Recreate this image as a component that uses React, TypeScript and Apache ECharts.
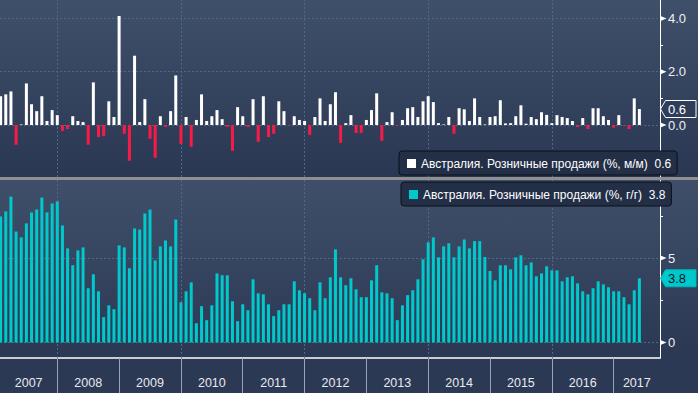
import React, { useEffect, useRef } from 'react';
import * as echarts from 'echarts';

// ---- data ----
const START_YEAR = 2007;
const yearLabels = ['2007', '2008', '2009', '2010', '2011', '2012', '2013', '2014', '2015', '2016', '2017'];

// Monthly % change (m/m), Jan 2007 .. May 2017
const momValues = [
  1.08, 1.15, 1.26, -0.74, 0.02, 1.56, 0.78, 0.52, 1.08, 0.15, 0.56, 0.37,
  -0.22, -0.15, 0.33, 0.15, 0.11, -0.74, 1.6, -0.45, -0.41, 0.89, 0.3, 4.09,
  -0.33, -1.34, 2.6, 0.11, 0.97, -0.52, -1.23, 0.33, -0.07, 0.52, 1.86, -0.71,
  0.3, -0.82, 0.19, 1.15, 0.15, 0.33, 0.56, 0.22, -0.07, -0.97, 0.67, 0.33,
  -0.07, 0.97, -0.63, 1.08, -0.45, -0.33, 0.89, 0.52, -0.02, 0.33, 0.19, 0.15,
  -0.37, 0.3, 1.0, 0.15, 0.78, 1.23, -0.67, 0.07, 0.37, -0.3, -0.3, 0.19,
  0.56, 1.19, -0.59, 0.11, 0.48, -0.02, 0.19, 0.63, 0.67, 0.3, 0.89, 1.08,
  0.86, 0.07, 0.02, 0.3, -0.33, 0.63, 0.59, 0.15, 1.0, 0.3, 0.02, 0.3,
  0.33, 0.93, 0.06, 0.07, 0.33, 0.74, 0.05, 0.3, 0.22, 0.48, 0.38, 0.07,
  0.37, 0.3, 0.26, 0.15, -0.07, 0.26, -0.15, 0.63, 0.63, 0.33, 0.19, -0.1,
  0.37, -0.02, -0.15, 1.0, 0.6,
];

// Annual % change (y/y), Jan 2007 .. May 2017
const yoyValues = [
  7.46, 7.76, 8.64, 6.57, 6.22, 7.05, 7.7, 7.87, 8.58, 7.7, 8.23, 8.35,
  6.93, 5.57, 4.57, 5.45, 5.63, 3.21, 4.04, 3.03, 1.5, 2.2, 1.97, 5.75,
  5.63, 4.39, 6.75, 6.69, 7.64, 7.87, 4.86, 5.69, 6.04, 5.69, 7.28, 2.38,
  3.03, 3.56, 1.14, 2.15, 1.32, 2.2, 4.09, 3.98, 3.98, 2.44, 1.26, 2.26,
  1.91, 3.74, 2.91, 2.85, 2.26, 1.56, 1.91, 2.26, 2.26, 3.62, 3.09, 2.91,
  2.62, 1.91, 3.56, 2.62, 3.86, 5.51, 3.86, 3.39, 3.8, 3.15, 2.68, 2.68,
  3.68, 4.57, 2.97, 2.91, 2.62, 1.32, 2.2, 2.8, 3.09, 3.74, 4.92, 5.93,
  6.22, 5.04, 5.69, 5.87, 5.04, 5.69, 6.1, 5.57, 6.0, 6.0, 5.06, 4.23,
  3.68, 4.57, 4.57, 4.33, 5.04, 5.16, 4.57, 4.74, 3.92, 4.09, 4.51, 4.27,
  4.27, 3.62, 3.86, 3.92, 3.5, 3.03, 2.85, 3.21, 3.62, 3.44, 3.27, 3.03,
  3.03, 2.68, 2.26, 3.09, 3.8,
];

const momLabelTicks = [0, 2, 4];
const momMinorTicks = [-1, 1, 3];
const yoyLabelTicks = [0, 5];
const yoyMinorTicks = [2.5, 7.5];
const gridYears = [2008, 2010, 2012, 2014, 2016];

const nameMM = 'Австралия. Розничные продажи (%, м/м)';
const nameYY = 'Австралия. Розничные продажи (%, г/г)';

// ---- styles ----
const RED = '#fa1a47';
const CYAN = '#00c9cc';
const GRIDC = '#4d6987';
const FONT = "'Liberation Sans', Arial, sans-serif";
const X_MIN = 0.877;
const X_MAX = 129.0;

const monthPos = (i: number) => i + 1; // end of month i (months since Jan 2007)
const yearStart = (y: number) => (y - START_YEAR) * 12;

export default function App() {
  const ref = useRef<HTMLDivElement>(null);

  useEffect(() => {
    document.body.style.margin = '0';
    const chart = echarts.init(ref.current!, null, { renderer: 'svg' });

    const yearBoundaries = yearLabels.slice(1).map((y) => yearStart(Number(y)));
    const labelPos = yearLabels.map((y) => {
      const a = Math.max(yearStart(Number(y)), X_MIN);
      const b = Math.min(yearStart(Number(y)) + 12, X_MAX);
      return (a + b) / 2;
    });

    const lastMM = momValues[momValues.length - 1];
    const lastYY = yoyValues[yoyValues.length - 1];

    const markLineCommon = {
      silent: true,
      symbol: ['none', 'none'],
      label: { show: false },
      z: 1,
      lineStyle: { type: [2, 2], color: GRIDC, width: 1 },
      emphasis: { disabled: true },
    };

    const legendCommon = {
      orient: 'horizontal',
      itemWidth: 9,
      itemHeight: 9,
      icon: 'rect',
      itemGap: 0,
      padding: [6, 6, 5, 8],
      backgroundColor: '#232f47',
      borderColor: '#0b1019',
      borderWidth: 1,
      borderRadius: 3,
      selectedMode: false,
      textStyle: { color: '#ffffff', fontSize: 12, fontFamily: FONT, lineHeight: 13 },
    };

    const yLabelStyle = { color: '#eef0f4', fontSize: 13, fontFamily: FONT, margin: 8 };

    const option: any = {
      animation: false,
      backgroundColor: '#2c3955',
      grid: [
        { left: 0, top: 0, width: 660, height: 177 },
        { left: 0, top: 180, width: 660, height: 178 },
      ],
      legend: [
        {
          ...legendCommon,
          data: [nameMM],
          left: 399,
          top: 151,
          formatter: (n: string) => `${n}  ${lastMM.toFixed(1)}`,
        },
        {
          ...legendCommon,
          data: [nameYY],
          left: 401,
          top: 182,
          formatter: (n: string) => `${n}  ${lastYY.toFixed(1)}`,
        },
      ],
      xAxis: [
        { type: 'value', gridIndex: 0, min: X_MIN, max: X_MAX, show: false },
        {
          type: 'value',
          gridIndex: 1,
          min: X_MIN,
          max: X_MAX,
          axisLine: { show: true, onZero: false, lineStyle: { color: '#ffffff', width: 1.5 } },
          axisTick: { show: true, customValues: yearBoundaries, length: 35, lineStyle: { color: '#9aa2b4', width: 1 } },
          axisLabel: {
            show: true,
            customValues: labelPos,
            formatter: (v: number) => yearLabels[Math.floor(v / 12)],
            margin: 18,
            color: '#e8eaf0',
            fontSize: 12.5,
            fontFamily: FONT,
          },
          splitLine: { show: false },
        },
      ],
      yAxis: [
        {
          type: 'value',
          gridIndex: 0,
          position: 'right',
          min: -1.95,
          max: 4.69,
          axisLine: { show: true, onZero: false, lineStyle: { color: '#ffffff', width: 1 } },
          axisTick: { show: true, customValues: momMinorTicks, length: 3, lineStyle: { color: '#ffffff' } },
          axisLabel: { show: true, customValues: momLabelTicks, formatter: (v: number) => v.toFixed(1), ...yLabelStyle },
          splitLine: { show: false },
        },
        {
          type: 'value',
          gridIndex: 1,
          position: 'right',
          min: -0.92,
          max: 9.62,
          axisLine: { show: true, onZero: false, lineStyle: { color: '#ffffff', width: 1 } },
          axisTick: { show: true, customValues: yoyMinorTicks, length: 3, lineStyle: { color: '#ffffff' } },
          axisLabel: { show: true, customValues: yoyLabelTicks, formatter: (v: number) => String(v), ...yLabelStyle },
          splitLine: { show: false },
        },
      ],
      series: [
        {
          type: 'bar',
          name: nameMM,
          xAxisIndex: 0,
          yAxisIndex: 0,
          barWidth: 3,
          itemStyle: { color: '#ffffff' },
          data: momValues.map((v, i) => ({
            value: [monthPos(i), v],
            itemStyle: v < 0 ? { color: RED } : { color: '#ffffff' },
          })),
          markLine: {
            ...markLineCommon,
            data: [
              ...momLabelTicks.map((v) => ({ yAxis: v })),
              ...gridYears.map((y) => ({ xAxis: yearStart(y) })),
            ],
          },
        },
        {
          type: 'bar',
          name: nameYY,
          xAxisIndex: 1,
          yAxisIndex: 1,
          barWidth: 3,
          itemStyle: { color: CYAN },
          data: yoyValues.map((v, i) => [monthPos(i), v]),
          markLine: {
            ...markLineCommon,
            data: [
              ...yoyLabelTicks.map((v) => ({ yAxis: v })),
              ...gridYears.map((y) => ({ xAxis: yearStart(y) })),
            ],
          },
        },
      ],
      graphic: {
        elements: [
          {
            id: 'bgTop',
            type: 'rect',
            z: -10,
            silent: true,
            shape: { x: 0, y: 0, width: 698, height: 177 },
            style: {
              fill: new echarts.graphic.LinearGradient(0, 0, 0, 1, [
                { offset: 0, color: '#3f506b' },
                { offset: 1, color: '#2a3752' },
              ]),
            },
          },
          {
            id: 'bgBottom',
            type: 'rect',
            z: -10,
            silent: true,
            shape: { x: 0, y: 180, width: 698, height: 178 },
            style: {
              fill: new echarts.graphic.LinearGradient(0, 0, 0, 1, [
                { offset: 0, color: '#3f4f6a' },
                { offset: 1, color: '#2b3853' },
              ]),
            },
          },
          {
            id: 'sep',
            type: 'rect',
            z: 20,
            silent: true,
            shape: { x: 0, y: 177, width: 698, height: 3 },
            style: { fill: '#8f8f8f' },
          },
        ],
      },
    };

    chart.setOption(option);

    const y0 = (v: number) => chart.convertToPixel({ yAxisIndex: 0 }, v) as number;
    const y1 = (v: number) => chart.convertToPixel({ yAxisIndex: 1 }, v) as number;
    const AX = 660.5;

    const tri = (y: number, id: string) => ({
      id,
      type: 'polygon',
      z: 30,
      silent: true,
      shape: { points: [[AX, y - 2.5], [AX + 6, y], [AX, y + 2.5]] },
      style: { fill: '#ffffff' },
    });

    const flag = (y: number, id: string, fill: string, stroke: string, textColor: string, text: string) => [
      {
        id: id + 'Box',
        type: 'polygon',
        z: 30,
        silent: true,
        shape: {
          points: [
            [AX, y],
            [AX + 5, y - 8.5],
            [696, y - 8.5],
            [696, y + 8.5],
            [AX + 5, y + 8.5],
          ],
        },
        style: { fill, stroke, lineWidth: 1 },
      },
      {
        id: id + 'Txt',
        type: 'text',
        z: 31,
        silent: true,
        style: {
          x: 668,
          y: y + 0.5,
          text,
          fill: textColor,
          font: `13px ${FONT}`,
          verticalAlign: 'middle',
          align: 'left',
        },
      },
    ];

    const extra: any[] = [
      ...momLabelTicks.map((v, i) => tri(y0(v), 'triA' + i)),
      ...yoyLabelTicks.map((v, i) => tri(y1(v), 'triB' + i)),
      ...flag(y0(lastMM), 'flagA', '#2f3d58', '#ffffff', '#ffffff', lastMM.toFixed(1)),
      ...flag(y1(lastYY), 'flagB', CYAN, '#00b5b8', '#0c1828', lastYY.toFixed(1)),
    ];

    chart.setOption({ graphic: { elements: extra } });

    return () => chart.dispose();
  }, []);

  return (
    <div
      ref={ref}
      style={{ position: 'absolute', left: 0, top: 0, width: 698, height: 393 }}
    />
  );
}
